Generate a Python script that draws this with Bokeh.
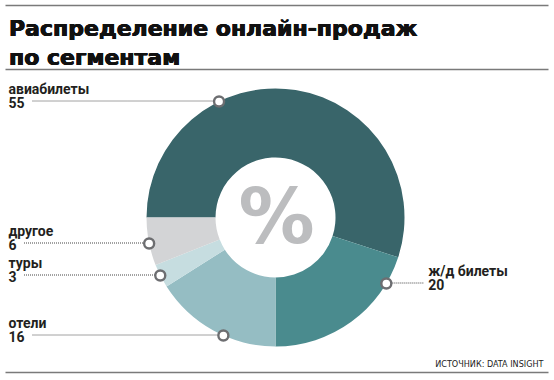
import math
from bokeh.plotting import figure
from bokeh.models import Range1d
from bokeh.core.properties import value
from bokeh.embed import file_html
from bokeh.resources import INLINE

# ---- data ----
segments = ["авиабилеты", "ж/д билеты", "отели", "туры", "другое"]
shares = [55, 20, 16, 3, 6]
colors = ["#39656a", "#4a8b8e", "#95bdc3", "#c6dde0", "#d3d4d6"]
title_lines = ["Распределение онлайн-продаж", "по сегментам"]
source = "ИСТОЧНИК: DATA INSIGHT"

# ---- layout (pixel coords: x = px, y = 380 - py) ----
W, H = 554, 380
CX, CY = 275, 163
R_OUT, R_IN = 129, 60
label_y = {"авиабилеты": 279, "ж/д билеты": 97, "отели": 45, "туры": 105, "другое": 137}
label_side = {"авиабилеты": -1, "ж/д билеты": 1, "отели": -1, "туры": -1, "другое": -1}

p = figure(width=W, height=H, output_backend="svg", toolbar_location=None,
           x_range=Range1d(0, W), y_range=Range1d(0, H), min_border=0)
p.axis.visible = False
p.grid.visible = False
p.outline_line_color = None
p.background_fill_color = "white"
p.border_fill_color = "white"

# donut
cum = 0
starts, ends = [], []
for s in shares:
    starts.append(math.radians(180 - cum * 3.6))
    cum += s
    ends.append(math.radians(180 - cum * 3.6))
p.annular_wedge(x=[CX] * len(shares), y=[CY] * len(shares), inner_radius=R_IN, outer_radius=R_OUT,
                start_angle=starts, end_angle=ends, direction="clock",
                fill_color=colors, line_color=None)

p.text(x=[CX + 1], y=[CY + 1], text=["%"], text_font=value("DejaVu Sans"), text_font_style="bold",
       text_font_size="76px", text_color="#bcbdbf", text_align="center", text_baseline="middle")

# callouts
mx, my = [], []
for name, val in zip(segments, shares):
    ly = label_y[name]
    side = label_side[name]
    dy = ly - CY
    xm = CX + side * math.sqrt(R_OUT ** 2 - dy ** 2)
    mx.append(xm)
    my.append(ly)
    num = str(val)
    if side < 0:
        tx = 8
        x0 = tx + len(num) * 8.5 + 7
        p.line([x0, xm], [ly + 0.5, ly + 0.5], line_color="#444444", line_width=1, line_dash="1 1")
    else:
        x1 = xm + 38
        p.line([xm, x1], [ly + 0.5, ly + 0.5], line_color="#444444", line_width=1, line_dash="1 1")
        tx = x1 + 4
    p.text(x=[tx], y=[ly - 1], text=[num], text_font=value("Roboto"), text_font_style="bold",
           text_font_size="14px", text_color="#231f20", text_align="left", text_baseline="middle")
    p.text(x=[tx], y=[ly + 13], text=[name], text_font=value("Roboto"), text_font_style="bold",
           text_font_size="14px", text_color="#231f20", text_align="left", text_baseline="middle")

p.scatter(x=mx, y=my, size=10, marker="circle", fill_color="white", line_color="#6d6e71", line_width=2.4)

# title & rules
for ry in [375, 311, 8]:
    p.line([5, 548], [ry, ry], line_color="#7a7a7a", line_width=1.5)
for dx, dy in [(0, 0), (0.5, 0), (1.0, 0), (0.5, 0.4)]:
    p.text(x=[8 + dx, 8 + dx], y=[352 + dy, 323 + dy], text=title_lines, text_font=value("DejaVu Sans"),
           text_font_style="bold", text_font_size="22px", text_color="#111111", text_baseline="alphabetic")
p.text(x=[543], y=[17], text=[source], text_font=value("DejaVu Sans Condensed"),
       text_font_size="9px", text_color="#222222", text_align="right", text_baseline="middle")

open("out.html", "w").write(file_html(p, INLINE))
